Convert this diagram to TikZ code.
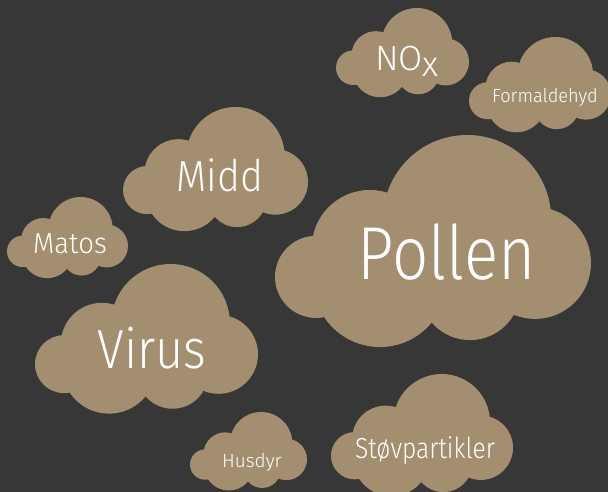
\documentclass[tikz,border=0pt]{standalone}
\usepackage{fontspec}
\setmainfont{Fira Sans}[UprightFont=* Light]
\definecolor{bg}{RGB}{55,55,55}
\definecolor{cloudtan}{RGB}{163,143,112}
\newcommand{\drawcloud}[3]{%
  \begin{scope}[shift={(#1,#2)},scale=#3]
    \fill[cloudtan] (0.608,0.266) circle (0.266);
    \fill[cloudtan] (0.300,0.358) circle (0.184);
    \fill[cloudtan] (0.130,0.449) circle (0.130);
    \fill[cloudtan] (0.823,0.405) circle (0.177);
    \fill[cloudtan] (0.617,0.489) circle (0.160);
    \fill[cloudtan] (0.332,0.459) circle (0.212);
    \fill[cloudtan] (0.14,0.33) -- (0.37,0.20) -- (0.85,0.25) -- (0.74,0.555) -- (0.49,0.58) -- (0.175,0.565) -- cycle;
  \end{scope}}
\tikzset{lbl/.style={text=white, inner sep=0pt, anchor=base}}
\begin{document}
\begin{tikzpicture}[x=1pt,y=-1pt]
  \fill[bg] (0,0) rectangle (608,492);
  \useasboundingbox (0,0) rectangle (608,492);
  \drawcloud{275}{135}{316}
  \drawcloud{35}{264}{223}
  \drawcloud{123}{107}{185}
  \drawcloud{7}{197}{121}
  \drawcloud{336}{8}{133}
  \drawcloud{469}{37}{142}
  \drawcloud{190}{412}{117}
  \drawcloud{331}{374}{182}
  \node[lbl, font=\fontsize{75}{75}\selectfont] (pollen) at (447,279) {\scalebox{0.85}[1]{Pollen}};
  \node[lbl, font=\fontsize{55}{55}\selectfont] (virus) at (152,368) {\scalebox{0.885}[1]{Virus}};
  \node[lbl, font=\fontsize{43.5}{43.5}\selectfont] (midd) at (220,192) {\scalebox{0.9}[1]{Midd}};
  \node[lbl, font=\fontsize{29}{29}\selectfont] (matos) at (70,253) {\scalebox{0.95}[1]{Matos}};
  \node[lbl, font=\fontsize{35}{35}\selectfont] (nox) at (407,71) {NO\raisebox{-6pt}{x}};
  \node[lbl, font=\fontsize{19}{19}\selectfont] (form) at (545,103) {\scalebox{0.96}[1]{Formaldehyd}};
  \node[lbl, font=\fontsize{19}{19}\selectfont] (husdyr) at (252,467) {Husdyr};
  \node[lbl, font=\fontsize{29}{29}\selectfont] (stov) at (425,458) {\scalebox{0.85}[1]{Støvpartikler}};
\end{tikzpicture}
\end{document}
